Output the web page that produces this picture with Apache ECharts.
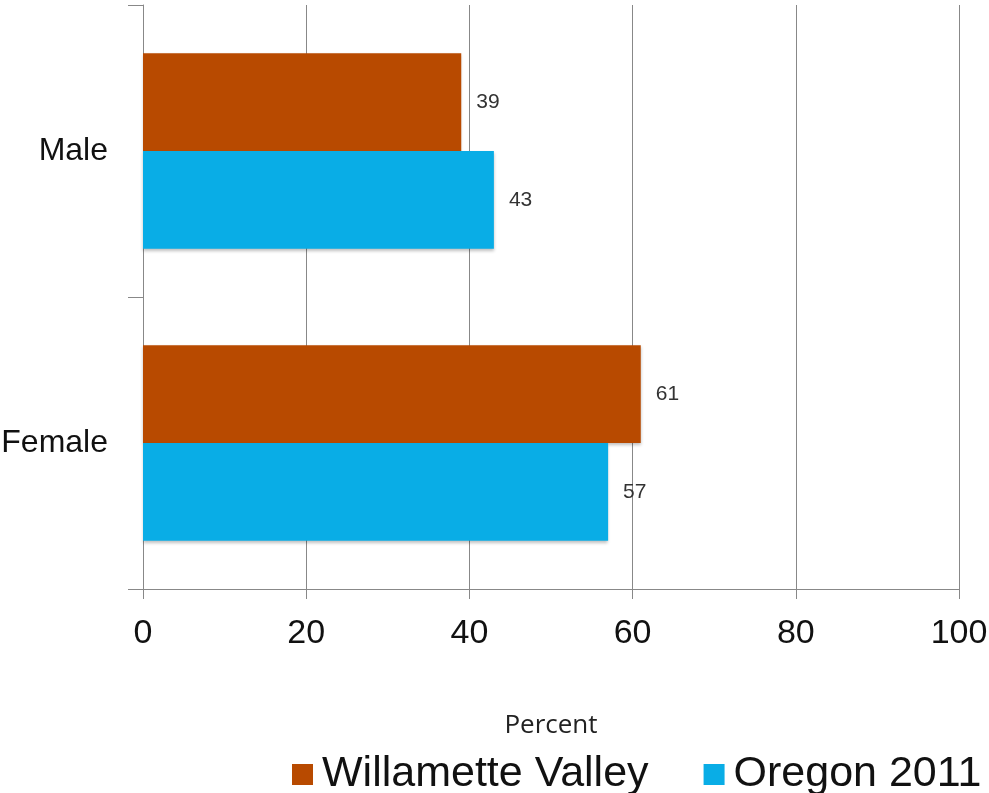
<!DOCTYPE html>
<html>
<head>
<meta charset="utf-8">
<script src="https://cdn.jsdelivr.net/npm/echarts@6/dist/echarts.min.js"></script>
<style>
html, body { margin: 0; padding: 0; background: #fff; }
#chart { width: 989px; height: 793px; }
</style>
</head>
<body>
<div id="chart"></div>
<script>
var categories = ['Male', 'Female'];
var willamette = [39, 61];
var oregon = [43, 57];
var xTicks = [0, 20, 40, 60, 80, 100];

var chart = echarts.init(document.getElementById('chart'));

var labelStyle = {
    show: true,
    position: 'right',
    distance: 15,
    color: '#333',
    fontSize: 21,
    fontFamily: 'Liberation Sans'
};

var option = {
    animation: false,
    grid: { left: 143, right: 30, top: 5, bottom: 204, outerBoundsMode: 'none' },
    legend: {
        top: 748,
        left: 287,
        width: 702,
        itemGap: 55,
        itemWidth: 21,
        itemHeight: 21,
        icon: 'rect',
        textStyle: { fontSize: 43, color: '#111', fontFamily: 'Liberation Sans', padding: [0, 0, 0, 4] },
        data: ['Willamette Valley', 'Oregon 2011']
    },
    xAxis: {
        type: 'value',
        min: xTicks[0],
        max: xTicks[xTicks.length - 1],
        interval: 20,
        name: 'Percent',
        nameLocation: 'middle',
        nameGap: 124,
        nameTextStyle: { fontSize: 26, color: '#222', fontFamily: 'Open Sans' },
        axisLine: { show: true, lineStyle: { color: '#888', width: 1 } },
        axisTick: { show: true, length: 10, lineStyle: { color: '#888' } },
        axisLabel: { fontSize: 34, color: '#111', margin: 28, fontFamily: 'Liberation Sans' },
        splitLine: { show: true, lineStyle: { color: '#888', width: 1 } }
    },
    yAxis: {
        type: 'category',
        inverse: true,
        data: categories,
        axisLine: { show: true, lineStyle: { color: '#888', width: 1 } },
        axisTick: { show: true, length: 15, lineStyle: { color: '#888' } },
        axisLabel: { fontSize: 32, color: '#111', margin: 35, fontFamily: 'Liberation Sans' }
    },
    series: [
        {
            name: 'Willamette Valley',
            type: 'bar',
            data: willamette,
            barGap: '0%',
            barCategoryGap: '33%',
            itemStyle: { color: '#b84a00', shadowColor: 'rgba(0,0,0,0.25)', shadowBlur: 3, shadowOffsetY: 2 },
            label: labelStyle
        },
        {
            name: 'Oregon 2011',
            type: 'bar',
            data: oregon,
            barGap: '0%',
            barCategoryGap: '33%',
            itemStyle: { color: '#09ade6', shadowColor: 'rgba(0,0,0,0.25)', shadowBlur: 3, shadowOffsetY: 2 },
            label: labelStyle
        }
    ]
};

chart.setOption(option);
</script>
</body>
</html>
